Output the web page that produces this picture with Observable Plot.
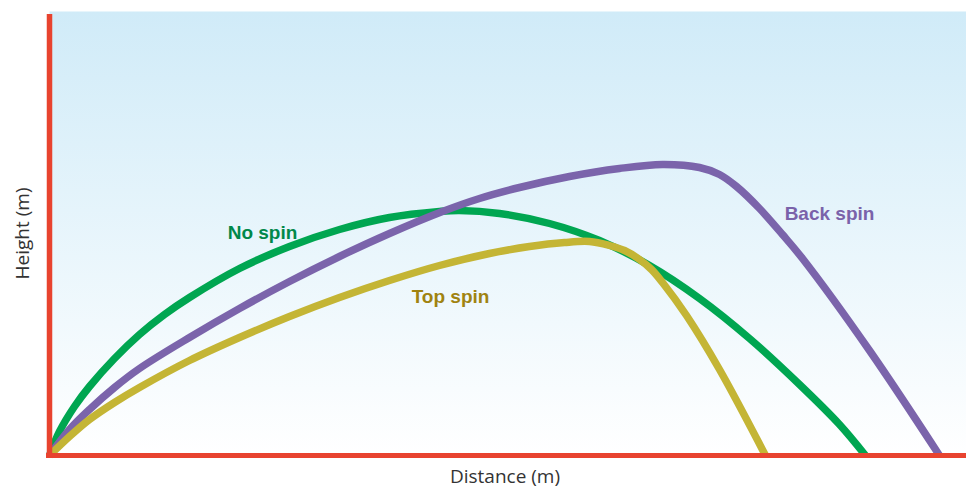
<!DOCTYPE html>
<html>
<head>
<meta charset="utf-8">
<script src="https://cdn.jsdelivr.net/npm/d3@7"></script>
<script src="https://cdn.jsdelivr.net/npm/@observablehq/plot@0.6"></script>
<style>
  html, body { margin: 0; padding: 0; background: #ffffff; }
  #chart svg { display: block; }
</style>
</head>
<body>
<div id="chart"></div>
<script>
// Trajectories: distance vs height (arbitrary units)
const noSpinDistance = [0, 1, 2.5, 4, 6.5, 9, 11.5, 14, 19, 24, 29, 34, 39, 41, 45, 50, 55, 60, 65, 70, 75, 79, 81.6];
const noSpinHeight   = [0, 2.4, 4.9, 6.9, 9.7, 12.1, 14.1, 15.8, 18.7, 20.9, 22.6, 23.8, 24.4, 24.5, 24.2, 23.2, 21.5, 19, 15.7, 11.7, 7.1, 3.1, 0];

const backSpinDistance = [0, 2, 4, 6.5, 9, 14, 19, 24, 29, 34, 39.3, 43, 47, 52, 57, 61.3, 65, 67, 68.7, 71, 73.3, 75.3, 82, 89];
const backSpinHeight   = [0, 2.6, 4.6, 6.8, 8.7, 11.8, 14.7, 17.4, 19.9, 22.2, 24.4, 25.7, 26.8, 27.9, 28.7, 29.1, 28.8, 28.1, 26.9, 24.7, 22.1, 19.7, 10.5, 0];

const topSpinDistance = [0, 2, 4, 6.5, 9, 14, 19, 24, 29, 34, 39, 44, 48, 51.5, 54, 56, 57.5, 59, 60.2, 61.3, 63.7, 67, 71.6];
const topSpinHeight   = [0, 1.9, 3.6, 5.3, 6.8, 9.5, 11.8, 13.9, 15.8, 17.5, 19, 20.2, 20.9, 21.3, 21.4, 21, 20.5, 19.6, 18.6, 17.3, 14.0, 8.6, 0];

const seriesNames = ["No spin", "Back spin", "Top spin"];
const lineColors  = ["#00a651", "#7b64ab", "#c4b535"];
const labelColors = ["#00884a", "#7a62aa", "#a08310"];
const labelDistance = [21.3, 78, 40.1];
const labelHeight   = [22.3, 24.2, 15.9];

const xLabel = "Distance (m)";
const yLabel = "Height (m)";

const rows = [];
[[noSpinDistance, noSpinHeight], [backSpinDistance, backSpinHeight], [topSpinDistance, topSpinHeight]]
  .forEach(([xs, ys], i) => xs.forEach((x, j) => rows.push({series: seriesNames[i], d: x, h: ys[j]})));
const labels = seriesNames.map((s, i) => ({series: s, d: labelDistance[i], h: labelHeight[i], color: labelColors[i]}));

const defs = () => {
  const g = d3.create("svg:defs");
  const lg = g.append("linearGradient").attr("id", "bgGrad").attr("x1", 0).attr("y1", 0).attr("x2", 0).attr("y2", 1);
  lg.append("stop").attr("offset", "0%").attr("stop-color", "#d0ebf8");
  lg.append("stop").attr("offset", "100%").attr("stop-color", "#ffffff");
  return g.node();
};

const red = "#e8432f";

const chart = Plot.plot({
  width: 966,
  height: 491,
  marginLeft: 49,
  marginRight: 0,
  marginTop: 11,
  marginBottom: 36,
  x: {domain: [0, 91.7], axis: null},
  y: {domain: [0, 44.4], axis: null},
  style: {fontFamily: "Liberation Sans, Arial, sans-serif", background: "#ffffff"},
  marks: [
    defs,
    Plot.frame({fill: "url(#bgGrad)", stroke: "none"}),
    Plot.line(rows, {
      x: "d", y: "h", z: "series",
      stroke: d => lineColors[seriesNames.indexOf(d.series)],
      strokeWidth: 7.5, curve: "catmull-rom", strokeLinecap: "butt", strokeLinejoin: "round"
    }),
    Plot.ruleX([0], {y1: 0, y2: 44.1, stroke: red, strokeWidth: 5.5}),
    Plot.ruleY([0], {x1: -0.3, x2: 91.7, stroke: red, strokeWidth: 5}),
    Plot.text(labels, {x: "d", y: "h", text: "series", fill: "color", fontSize: 19, fontWeight: "bold"}),
    Plot.text([yLabel], {frameAnchor: "left", textAnchor: "middle", rotate: -90, dx: -27, fontSize: 19, fill: "#333333", fontFamily: "Open Sans"}),
    Plot.text([xLabel], {frameAnchor: "bottom", textAnchor: "middle", dy: 27, dx: -3, fontSize: 19, fill: "#333333", fontFamily: "Open Sans"})
  ]
});
document.getElementById("chart").appendChild(chart);
</script>
</body>
</html>
